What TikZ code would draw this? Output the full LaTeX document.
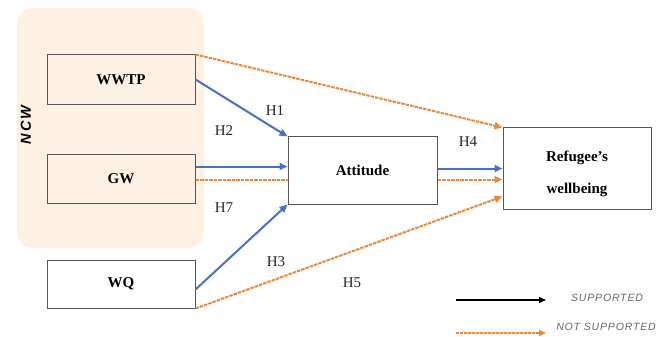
\documentclass[tikz,border=0pt]{standalone}
\usepackage{fontspec}
\setmainfont{Liberation Serif}
\setsansfont{Liberation Sans}
\newfontfamily\legfont[LetterSpace=8]{Liberation Sans}
\newfontfamily\ncwfont[LetterSpace=12]{Liberation Sans}
\usetikzlibrary{arrows.meta}
\definecolor{blu}{HTML}{4472C4}
\definecolor{org}{HTML}{E68A3E}
\definecolor{peach}{HTML}{FCF1E3}
\definecolor{bord}{HTML}{555555}
\begin{document}
\begin{tikzpicture}[x=1pt,y=-1pt,
  box/.style={draw=bord,line width=1pt,inner sep=0pt,font=\bfseries\fontsize{15}{18}\selectfont,align=center},
  sup/.style={draw=blu,line width=2pt,-{Triangle[length=8pt,width=7pt]}},
  nsup/.style={draw=org,line width=2pt,dash pattern=on 3.5pt off 1pt,-{Triangle[length=8pt,width=7pt]}},
  nsupn/.style={draw=org,line width=2pt,dash pattern=on 3.5pt off 1pt},
  hl/.style={font=\fontsize{15}{17}\selectfont,inner sep=0pt,text=black!85},
  lg/.style={font=\legfont\itshape\fontsize{10.5}{12}\selectfont,text=black!60,inner sep=0pt}]
\useasboundingbox (0,0) rectangle (665,337);
\fill[peach,rounded corners=16pt] (17,8) rectangle (204,248);
\node[font=\ncwfont\bfseries\itshape\fontsize{14.5}{16}\selectfont,rotate=90] (ncw) at (26,125) {NCW};
\node[box,minimum width=148pt,minimum height=50pt] (wwtp) at (121,80) {WWTP};
\node[box,minimum width=148pt,minimum height=48pt] (gw) at (121,179) {GW};
\node[box,minimum width=148pt,minimum height=48pt,fill=white] (wq) at (121,284) {WQ};
\node[box,minimum width=149pt,minimum height=67pt] (att) at (362.5,170.5) {Attitude};
\node[box,minimum width=148pt,minimum height=81pt] (rw) at (577,168.5) {};
\node[font=\bfseries\fontsize{15}{32}\selectfont,align=center,inner sep=0pt] (rwt) at (577,174) {Refugee’s\\wellbeing};
% connectors
\draw[nsup] (wwtp.north east) -- (rw.north west);
\draw[sup] ([yshift=-25pt]wwtp.north east) -- (att.north west);
\draw[sup] ([yshift=-12pt]gw.north east) -- ([yshift=-30pt]att.north west);
\draw[nsupn] ([yshift=-25pt]gw.north east) -- ([yshift=-43pt]att.north west);
\draw[sup] ([yshift=-30pt]wq.north east) -- (att.south west);
\draw[nsup] (wq.south east) -- ([yshift=-69pt]rw.north west);
\draw[sup] ([yshift=-32pt]att.north east) -- ([yshift=-41pt]rw.north west);
\draw[nsup] ([yshift=-43pt]att.north east) -- ([yshift=-52pt]rw.north west);
% labels
\node[hl] (h1) at (275,111) {H1};
\node[hl] (h2) at (224,131) {H2};
\node[hl] (h7) at (224,208) {H7};
\node[hl] (h3) at (276,262) {H3};
\node[hl] (h5) at (352,283) {H5};
\node[hl] (h4) at (468,142) {H4};
% legend
\coordinate (l1a) at (456,300);
\coordinate (l1b) at (546,300);
\coordinate (l2a) at (456,333);
\coordinate (l2b) at (546,333);
\draw[line width=1.6pt,-{Triangle[length=7pt,width=6pt]}] (l1a) -- (l1b);
\draw[draw=org,line width=1.6pt,dash pattern=on 3pt off 1pt,-{Triangle[length=7pt,width=6pt]}] (l2a) -- (l2b);
\node[lg] (ls) at (607,298) {SUPPORTED};
\node[lg] (ln) at (606,327) {NOT SUPPORTED};
\end{tikzpicture}
\end{document}
